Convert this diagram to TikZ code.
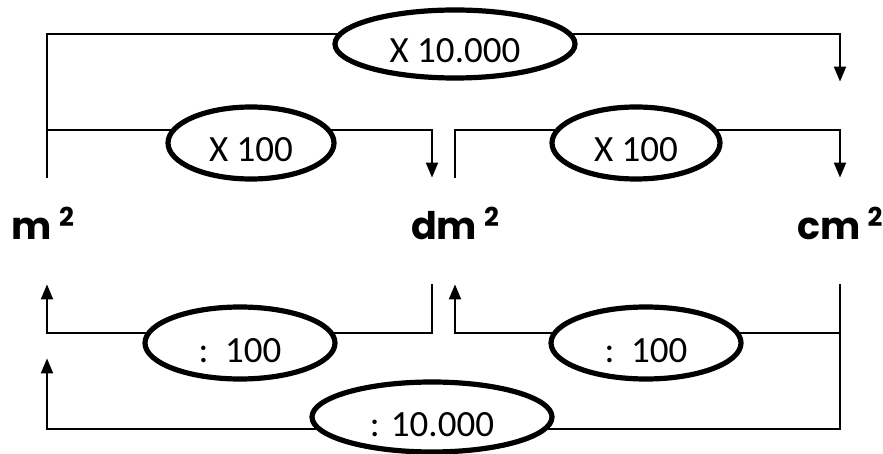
\documentclass[tikz,border=0pt]{standalone}
\usepackage{fontspec}
\setmainfont{Carlito}
\newfontfamily\unitfont{Poppins}
\usetikzlibrary{shapes.geometric,arrows.meta,calc}

\newcommand{\sq}{\hspace{3.5pt}\raisebox{6.5pt}{\fontsize{13}{14}\selectfont 2}}

\tikzset{
  unit/.style={font=\unitfont\bfseries\fontsize{19}{20}\selectfont,
    minimum height=53pt, inner sep=0pt, text height=14pt, text depth=5pt},
  factor/.style={ellipse, draw, line width=2.6pt, fill=white, inner sep=0pt,
    font=\fontsize{18.5}{19}\selectfont, text height=19pt, text depth=0pt},
  conv/.style={line width=1pt, -{Triangle[width=6pt,length=7.5pt]}}
}

\begin{document}
\begin{tikzpicture}[x=0.5pt,y=-0.5pt]
  \useasboundingbox (0,0) rectangle (883,454);
  % units
  \node[unit] (m) at (43,231) {m\sq};
  \node[unit] (dm) at (455,231) {dm\sq};
  \node[unit] (cm) at (840,231) {cm\sq};

  % multiply
  \draw[conv] ($(m.north)+(4,0)$) -- ++(0,-144) -| ($(cm.north)+(0,-96)$);
  \draw[conv] ($(m.north)+(4,0)$) -- ++(0,-48) -| ($(dm.north)+(-23,0)$);
  \draw[conv] (dm.north) -- ++(0,-48) -| (cm.north);

  % divide
  \draw[conv] ($(dm.south)+(-23,0)$) -- ++(0,49) -| ($(m.south)+(4,0)$);
  \draw[conv] (cm.south) -- ++(0,49) -| (dm.south);
  \draw[conv] (cm.south) -- ++(0,145) -| ($(m.south)+(4,74)$);

  \node[factor, minimum width=120pt, minimum height=34pt] (mul10000) at (455,44) {X 10.000};
  \node[factor, minimum width=83pt, minimum height=36pt] (mul100a) at (251,143) {X 100};
  \node[factor, minimum width=84pt, minimum height=36pt] (mul100b) at (636,143) {X 100};
  \node[factor, minimum width=95pt, minimum height=36pt] (div100a) at (240,343) {:\ \ 100};
  \node[factor, minimum width=95pt, minimum height=36pt] (div100b) at (646,343) {:\ \ 100};
  \node[factor, minimum width=120pt, minimum height=35pt] (div10000) at (432,417) {: 10.000};
\end{tikzpicture}
\end{document}
